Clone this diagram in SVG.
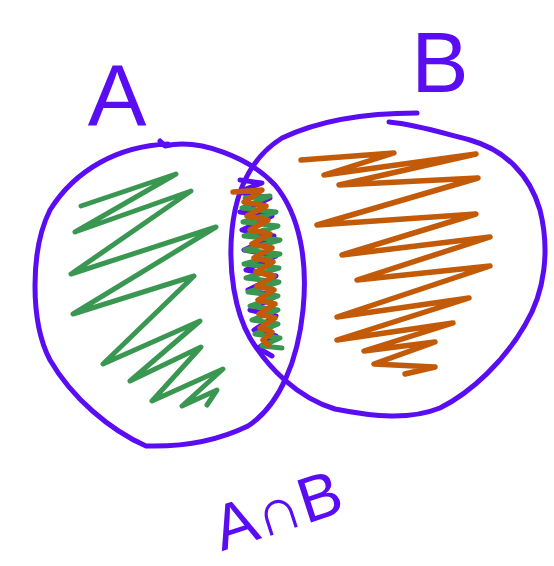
<svg xmlns="http://www.w3.org/2000/svg" width="554" height="566" viewBox="0 0 554 566">
<style>
.pen{fill:none;stroke-linecap:round;stroke-linejoin:round}
.pur{stroke:#5a0cf2;stroke-width:5}
.grn{stroke:#3a9752;stroke-width:5}
.org{stroke:#c25a08;stroke-width:5.5}
.lbl{font-family:"Liberation Sans","DejaVu Sans",sans-serif;fill:#5a0cf2;text-anchor:middle}
</style>
<rect width="554" height="566" fill="#ffffff"/>
<g id="set-a">
<path class="pen pur" d="M160,141 L165,146 C200,138 250,158 275,185 C300,215 308,262 303,310 C298,360 280,405 248,426 C215,442 180,447 146,446 C110,430 72,398 50,360 C30,322 30,250 50,210 C75,170 118,146 168,144"/>
<polyline class="pen grn" points="81,206 176,174 75,232 191,191 71,274 216,227 73,314 194,276 103,364 200,321 130,381 201,347 152,401 223,369 182,406 217,390 207,405"/>
</g>
<g id="set-b">
<path class="pen pur" d="M389,122 C420,125 445,134 470,140 C505,150 530,175 540,210 C550,250 545,292 525,325 C505,360 472,392 440,408 C410,420 375,417 335,409 C298,398 268,368 250,338 C235,312 228,270 232,230 C236,190 250,158 282,138 C320,120 370,113 417,113"/>
<polyline class="pen org" points="301,160 394,153 324,175 476,154 339,185 478,178 317,225 476,214 342,255 490,237 357,280 490,266 337,317 469,298 337,340 453,323 364,351 435,342 374,364 435,367 405,374"/>
</g>
<g id="intersection">
<polyline class="pen pur" points="240,180 262,183 238,192 270,198 240,212 272,216 242,230 274,236 244,250 276,256 246,270 276,276 248,290 276,296 250,310 276,316 254,330 276,336 258,348 272,356"/>
<polyline class="pen grn" points="245,198 270,196 242,208 276,212 243,222 278,226 244,236 280,240 245,250 280,254 244,264 279,268 246,278 279,282 248,292 278,296 250,306 278,310 252,320 278,324 255,334 280,338 262,346 282,348"/>
<polyline class="pen org" points="233,192 262,190 244,202 266,206 247,216 268,220 250,230 270,234 252,244 272,248 254,258 273,262 256,272 274,276 257,286 274,290 258,300 275,304 259,314 275,318 260,328 272,332 263,340 268,345"/>
</g>
<g id="label-a"><text class="lbl" x="117" y="126" font-size="88">A</text></g>
<g id="label-b"><text class="lbl" x="440" y="92" font-size="86">B</text></g>
<g id="label-anb"><text class="lbl" x="278" y="532" font-size="64" transform="rotate(-18 278 512)">A∩B</text></g>
</svg>
